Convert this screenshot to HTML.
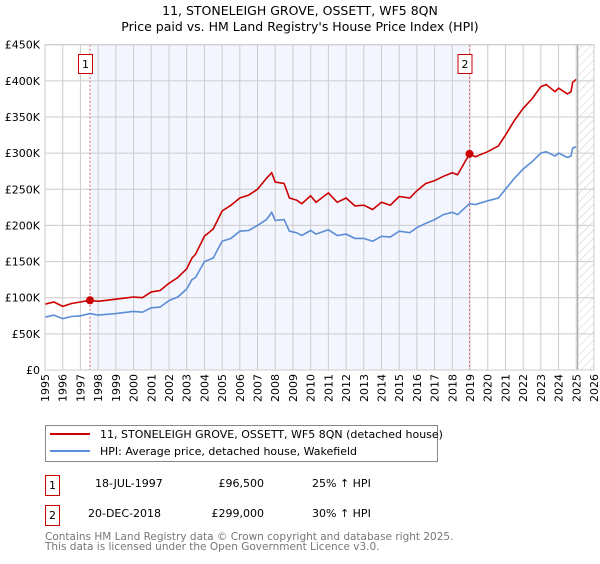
<!DOCTYPE html>
<html><head><meta charset="utf-8"><style>
body{margin:0;background:#fff;font-family:"DejaVu Sans","Liberation Sans",sans-serif;}
svg text{font-family:"DejaVu Sans","Liberation Sans",sans-serif;}
</style></head><body>
<svg id="c" width="600" height="560" xmlns="http://www.w3.org/2000/svg">
<defs><pattern id="hatch" width="6" height="6" patternUnits="userSpaceOnUse" patternTransform="rotate(45)"><line x1="0" y1="0" x2="0" y2="6" stroke="#ccc" stroke-width="1"/></pattern></defs>
<text x="300" y="15" text-anchor="middle" font-size="12.5">11, STONELEIGH GROVE, OSSETT, WF5 8QN</text>
<text x="300" y="31" text-anchor="middle" font-size="12.5">Price paid vs. HM Land Registry's House Price Index (HPI)</text>
<g id="plot"></g>
<g>
<rect x="45.5" y="425.5" width="392" height="36" fill="#fff" stroke="#888"/>
<line x1="50" y1="434" x2="90" y2="434" stroke="#cc0000" stroke-width="2"/>
<text x="100" y="438" font-size="11">11, STONELEIGH GROVE, OSSETT, WF5 8QN (detached house)</text>
<line x1="50" y1="451" x2="90" y2="451" stroke="#5b8dd6" stroke-width="2"/>
<text x="100" y="455" font-size="11">HPI: Average price, detached house, Wakefield</text>
</g>
<g font-size="11">
<rect x="45.5" y="475.5" width="14" height="20" fill="#fff" stroke="#cc0000"/>
<text x="52.5" y="489" text-anchor="middle">1</text>
<text x="95" y="487">18-JUL-1997</text>
<text x="264" y="487" text-anchor="end">£96,500</text>
<text x="312" y="487">25% ↑ HPI</text>
<rect x="45.5" y="505.5" width="14" height="20" fill="#fff" stroke="#cc0000"/>
<text x="52.5" y="519" text-anchor="middle">2</text>
<text x="88" y="517">20-DEC-2018</text>
<text x="264" y="517" text-anchor="end">£299,000</text>
<text x="312" y="517">30% ↑ HPI</text>
</g>
<text x="45" y="540" font-size="10.5" fill="#777">Contains HM Land Registry data © Crown copyright and database right 2025.</text>
<text x="45" y="550" font-size="10.5" fill="#777">This data is licensed under the Open Government Licence v3.0.</text>
</svg>
<script>
const yTicks=[0,50,100,150,200,250,300,350,400,450];
const yLabels=["£0","£50K","£100K","£150K","£200K","£250K","£300K","£350K","£400K","£450K"];
const xYears=[1995,1996,1997,1998,1999,2000,2001,2002,2003,2004,2005,2006,2007,2008,2009,2010,2011,2012,2013,2014,2015,2016,2017,2018,2019,2020,2021,2022,2023,2024,2025,2026];
const saleDates=[1997.54,2018.97];
const saleValues=[96.5,299];
const priceT=[1995,1995.5,1996,1996.5,1997,1997.54,1998,1999,2000,2000.5,2001,2001.5,2002,2002.5,2003,2003.3,2003.5,2004,2004.5,2005,2005.5,2006,2006.5,2007,2007.5,2007.8,2008,2008.5,2008.8,2009.2,2009.5,2010,2010.3,2011,2011.5,2012,2012.5,2013,2013.5,2014,2014.5,2015,2015.6,2016,2016.5,2017,2017.5,2018,2018.3,2018.97,2019.3,2020,2020.6,2021,2021.5,2022,2022.5,2023,2023.3,2023.8,2024,2024.5,2024.7,2024.8,2025.0];
const priceV=[91,94,88,92,94,96.5,95,98,101,100,108,110,120,128,140,155,160,185,195,220,228,238,242,250,265,273,260,258,238,235,230,241,232,245,232,238,227,228,222,232,228,240,238,248,258,262,268,273,270,299,295,302,310,325,345,362,375,392,395,385,390,382,385,398,402];
const hpiV=[73,76,71,74,75,78,76,78,81,80,86,87,96,101,112,125,128,150,155,178,182,192,193,200,208,218,207,208,192,190,186,193,188,194,186,188,182,182,178,185,184,192,190,197,203,208,215,218,215,230,229,234,238,250,265,278,288,300,302,296,300,294,296,307,309];
const X0=45,X1=594,Y0=370,Y1=44.7;
const xs=t=>X0+(t-1995)/(2026-1995)*(X1-X0);
const ys=v=>Y0-v/450*(Y0-Y1);
const g=document.getElementById('plot');
const NS='http://www.w3.org/2000/svg';
function mk(tag,attrs,parent){const e=document.createElementNS(NS,tag);for(const k in attrs)e.setAttribute(k,attrs[k]);(parent||g).appendChild(e);return e;}
let e;
e=mk('rect',{x:xs(saleDates[0]),y:Y1,width:xs(saleDates[1])-xs(saleDates[0]),height:Y0-Y1,fill:'#f3f6fe'});


e=mk('rect',{x:xs(2025.08),y:Y1,width:X1-xs(2025.08),height:Y0-Y1,fill:'url(#hatch)'});


xYears.forEach(yr=>{
 e=mk('line',{x1:xs(yr),x2:xs(yr),y1:Y1,y2:Y0,stroke:'#ccc','stroke-width':1});
 
 
 e=mk('text',{transform:`translate(${xs(yr)+4},${Y0+4}) rotate(-90)`,'text-anchor':'end','font-size':11});
 e.textContent=yr;
 
 
});
yTicks.forEach((v,i)=>{
 e=mk('line',{x1:X0,x2:X1,y1:ys(v),y2:ys(v),stroke:'#ccc','stroke-width':1});
 
 
 e=mk('text',{x:X0-5,y:ys(v)+4,'text-anchor':'end','font-size':11});
 e.textContent=yLabels[i];
 
 
});
e=mk('line',{x1:xs(2025.08),x2:xs(2025.08),y1:Y1,y2:Y0,stroke:'#999','stroke-width':1});


saleDates.forEach((d,i)=>{
 e=mk('line',{x1:xs(d),x2:xs(d),y1:Y1,y2:Y0,stroke:'#e06666','stroke-width':1,'stroke-dasharray':'2,2'});
 
 
 e=mk('rect',{x:xs(d)-11.5,y:54.5,width:14,height:19,fill:'#fff',stroke:'#cc0000'});
 
 
 e=mk('text',{x:xs(d)-4.5,y:68,'text-anchor':'middle','font-size':11});
 e.textContent=String(i+1);
 
 
});
const pts=arr=>arr.map((v,i)=>xs(priceT[i]).toFixed(1)+','+ys(v).toFixed(1)).join(' ');
e=mk('polyline',{points:pts(hpiV),fill:'none',stroke:'#5b8dd6','stroke-width':1.6});


e=mk('polyline',{points:pts(priceV),fill:'none',stroke:'#cc0000','stroke-width':1.6});


saleDates.forEach((d,i)=>{
 e=mk('circle',{cx:xs(d),cy:ys(saleValues[i]),r:4,fill:'#cc0000'});
 
 
});
e=mk('rect',{x:X0,y:Y1,width:X1-X0,height:Y0-Y1,fill:'none',stroke:'#ccc'});


</script>
</body></html>
